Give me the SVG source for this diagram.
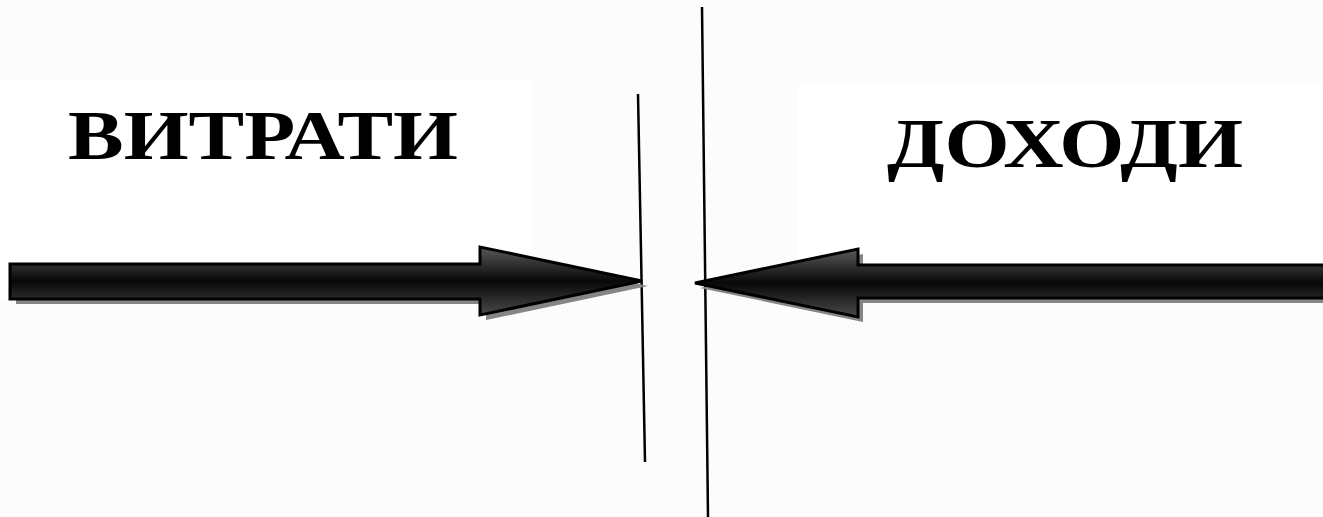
<svg xmlns="http://www.w3.org/2000/svg" width="1323" height="517" viewBox="0 0 1323 517">
  <defs>
    <linearGradient id="shaftGrad" x1="0" y1="0" x2="0" y2="1">
      <stop offset="0" stop-color="#5a5a5a"/>
      <stop offset="0.5" stop-color="#080808"/>
      <stop offset="1" stop-color="#4a4a4a"/>
    </linearGradient>
    <style>
      .label { font-family: "Liberation Serif", "Times New Roman", serif; font-weight: bold; font-size: 70px; fill: #000; }
      .arrow { fill: url(#shaftGrad); stroke: #000; stroke-width: 3; stroke-linejoin: miter; }
      .shadow { fill: #858585; }
      .divider { stroke: #000; stroke-width: 2.5; fill: none; }
    </style>
  </defs>

  <rect x="0" y="0" width="1323" height="517" fill="#fcfcfc"/>
  <rect x="0" y="80" width="532" height="222" fill="#ffffff"/>
  <rect x="798" y="86" width="525" height="216" fill="#ffffff"/>

  <g id="node-vytraty">
    <text class="label" x="68" y="159" textLength="390" lengthAdjust="spacingAndGlyphs">ВИТРАТИ</text>
  </g>
  <g id="node-dokhody">
    <text class="label" x="887" y="167" textLength="356" lengthAdjust="spacingAndGlyphs">ДОХОДИ</text>
  </g>

  <g id="divider-left">
    <line class="divider" x1="638" y1="94" x2="645" y2="462"/>
  </g>
  <g id="divider-right">
    <line class="divider" x1="702" y1="7" x2="708" y2="517"/>
  </g>

  <g id="connectors">
    <polygon class="shadow" points="16,269 486,269 486,252 648,286 486,320 486,304 16,304"/>
    <polygon class="arrow" points="10,264 480,264 480,247 642,281 480,315 480,299 10,299"/>
    <polygon class="shadow" points="700,288 863,254 863,270 1330,270 1330,303 863,303 863,322"/>
    <polygon class="arrow" points="695,283 858,249 858,265 1330,265 1330,298 858,298 858,317"/>
  </g>
</svg>
